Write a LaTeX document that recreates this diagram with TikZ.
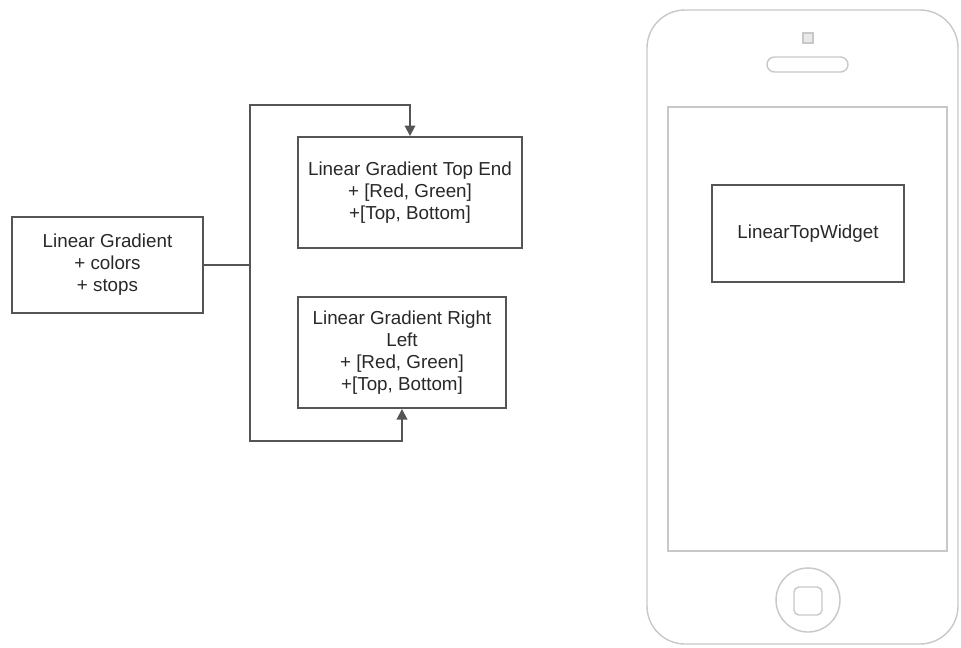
\documentclass[tikz,border=0pt]{standalone}
\usepackage{fontspec}
\setmainfont{Liberation Sans}
\usepackage{tikz}
\usetikzlibrary{positioning,arrows.meta,calc}
\definecolor{linegray}{RGB}{85, 85, 85}
\definecolor{phonegray}{RGB}{200, 200, 200}
\definecolor{textgray}{RGB}{40, 40, 40}

\begin{document}
\begin{tikzpicture}[
    x=0.02cm, y=-0.02cm,
    box/.style={draw=linegray, line width=1.1pt, align=center, inner sep=0pt,
        text=textgray, font=\fontsize{10.7}{12.5}\selectfont},
    link/.style={line width=1.1pt, draw=linegray},
    arrow/.style={link, -{Triangle[length=6pt,width=6pt]}},
    phone/.style={draw=phonegray, line width=0.8pt}
]
\useasboundingbox (0,0) rectangle (961,647);
% class boxes
\node[box, minimum width=3.82cm, minimum height=1.92cm] (grad) at (107.5,265)
    {Linear Gradient\\+ colors\\+ stops};
\node[box, minimum width=4.48cm, minimum height=2.22cm] (topend) at (410,192.5)
    {Linear Gradient Top End\\+ [Red, Green]\\+[Top, Bottom]};
\node[box, minimum width=4.16cm, minimum height=2.22cm] (rightleft) at (402,352.5)
    {Linear Gradient Right\\Left\\+ [Red, Green]\\+[Top, Bottom]};
\coordinate (split) at (250,265);
\draw[link] (grad.east) -- (split);
\draw[arrow] (split) |- ($(topend.north)+(0,-31)$) -- (topend.north);
\draw[arrow] (split) |- ($(rightleft.south)+(0,32)$) -- (rightleft.south);
% phone
\draw[phone, rounded corners=0.76cm] (647,10) rectangle (958,644);
\draw[phone] (668,107) rectangle (947,551);
\draw[phone, rounded corners=0.15cm] (767,57) rectangle (848,72);
\draw[phone, fill=phonegray!40] (803,33) rectangle (813,43);
\draw[phone] (808,600) circle[radius=0.64cm];
\draw[phone, rounded corners=0.1cm] (794,587) rectangle (822,615);
\node[box, minimum width=3.84cm, minimum height=1.94cm] (widget) at (808,233.5)
    {LinearTopWidget};
\end{tikzpicture}
\end{document}
